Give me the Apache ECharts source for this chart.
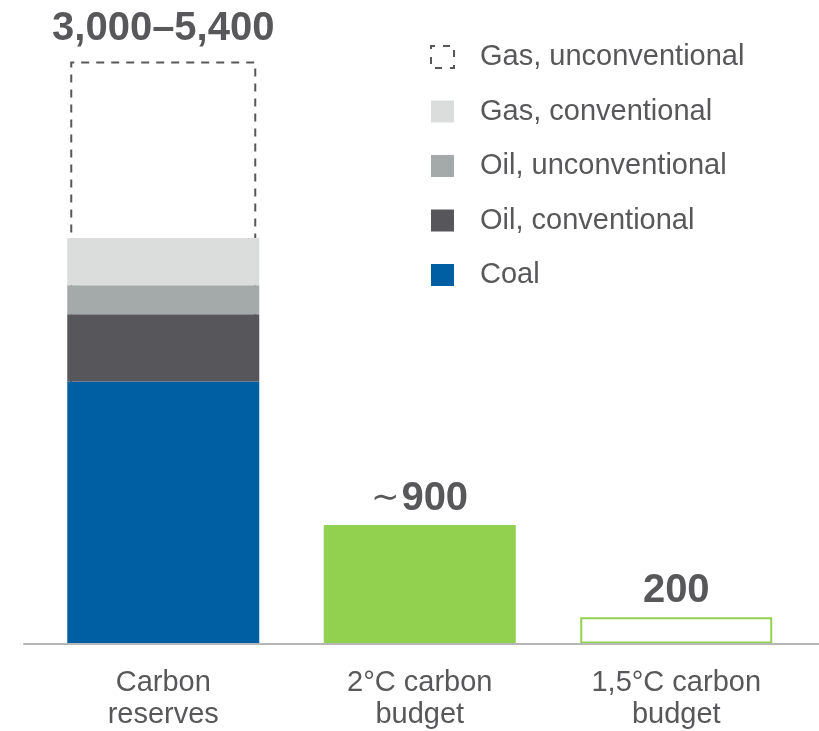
<!DOCTYPE html>
<html>
<head>
<meta charset="utf-8">
<style>
  html, body { margin: 0; padding: 0; background: #ffffff; }
  #chart { width: 819px; height: 731px; }
</style>
<script src="https://cdn.jsdelivr.net/npm/echarts@6/dist/echarts.min.js"></script>
</head>
<body>
<div id="chart"></div>
<script>
// Categories along the x axis
const categories = ['Carbon\nreserves', '2°C carbon\nbudget', '1,5°C carbon\nbudget'];

// Fossil carbon reserves by type (Gt CO2), first column only
const coal = [1990, '-', '-'];
const oilConventional = [510, '-', '-'];
const oilUnconventional = [220, '-', '-'];
const gasConventional = [360, '-', '-'];
const gasUnconventional = [1340, '-', '-'];

// Remaining carbon budgets (Gt CO2)
const budget = ['-', 900, 200];

// Range stated above the reserves column
const reserveRange = [3000, 5400];

const TEXT = '#58585a';
const FONT = '"Liberation Sans", Arial, Helvetica, sans-serif';

// Upper outline = conventional reserves plus unconventional gas
const reservesUpper = coal.map((v, i) => {
  if (v === '-') return '-';
  return coal[i] + oilConventional[i] + oilUnconventional[i] + gasConventional[i] + gasUnconventional[i];
});

const budgetData = budget.map((v, i) => {
  if (i === 2) {
    return { value: v, itemStyle: { color: '#ffffff', borderColor: '#92d050', borderWidth: 2 } };
  }
  return v;
});

const valueLabel = {
  show: true,
  position: 'top',
  distance: 6,
  fontFamily: FONT,
  fontSize: 40,
  fontWeight: 'bold',
  color: TEXT
};

const chart = echarts.init(document.getElementById('chart'), null, { renderer: 'canvas' });

chart.setOption({
  animation: false,
  backgroundColor: '#ffffff',
  grid: [
    { left: 35, right: 14.5, top: 11.5, bottom: 87.5 },
    { left: 24, right: 0, top: 11.5, bottom: 87.2 }
  ],
  legend: {
    orient: 'vertical',
    left: 425,
    top: 37.5,
    itemWidth: 23,
    itemHeight: 22,
    itemGap: 25.5,
    icon: 'rect',
    selectedMode: false,
    textStyle: {
      fontFamily: FONT,
      fontSize: 29,
      color: TEXT,
      lineHeight: 22,
      padding: [0, 0, 0, 21]
    },
    data: [
      { name: 'Gas, unconventional', itemStyle: { color: 'rgba(0,0,0,0)', borderColor: TEXT, borderWidth: 2, borderType: [7, 8], borderDashOffset: 3 } },
      'Gas, conventional',
      'Oil, unconventional',
      'Oil, conventional',
      'Coal'
    ]
  },
  xAxis: [
    {
      type: 'category',
      gridIndex: 0,
      data: categories,
      axisLine: { show: false },
      axisTick: { show: false },
      axisLabel: {
        margin: 23,
        fontFamily: FONT,
        fontSize: 29,
        lineHeight: 32,
        color: TEXT,
        interval: 0
      }
    },
    {
      type: 'category',
      gridIndex: 0,
      data: categories,
      show: false
    },
    {
      // baseline running across the full width
      type: 'value',
      gridIndex: 1,
      min: 0,
      max: 1,
      z: 5,
      axisLine: { show: true, lineStyle: { color: '#b5b6b6', width: 2 } },
      axisTick: { show: false },
      axisLabel: { show: false },
      splitLine: { show: false }
    }
  ],
  yAxis: [
    { type: 'value', gridIndex: 0, min: 0, max: 4800, show: false, splitLine: { show: false } },
    { type: 'value', gridIndex: 1, min: 0, max: 1, show: false, splitLine: { show: false } }
  ],
  series: [
    {
      name: 'Gas, unconventional',
      type: 'bar',
      xAxisIndex: 1,
      yAxisIndex: 0,
      barWidth: 186,
      z: 1,
      data: reservesUpper,
      itemStyle: {
        color: 'rgba(0,0,0,0)',
        borderColor: TEXT,
        borderWidth: 2,
        borderType: [8, 7]
      },
      label: Object.assign({}, valueLabel, {
        distance: 13,
        formatter: () => reserveRange.map(v => v.toLocaleString('en-US')).join('–')
      })
    },
    {
      name: 'Coal',
      type: 'bar',
      stack: 'total',
      barWidth: 192,
      data: coal,
      itemStyle: { color: '#005fa3' }
    },
    {
      name: 'Oil, conventional',
      type: 'bar',
      stack: 'total',
      barWidth: 192,
      data: oilConventional,
      itemStyle: { color: '#57565b' }
    },
    {
      name: 'Oil, unconventional',
      type: 'bar',
      stack: 'total',
      barWidth: 192,
      data: oilUnconventional,
      itemStyle: { color: '#a4a9a9' }
    },
    {
      name: 'Gas, conventional',
      type: 'bar',
      stack: 'total',
      barWidth: 192,
      data: gasConventional,
      itemStyle: { color: '#dbdcdc' }
    },
    {
      name: 'Carbon budget',
      type: 'bar',
      stack: 'total',
      barWidth: 192,
      data: budgetData,
      itemStyle: { color: '#92d050' },
      label: Object.assign({}, valueLabel, {
        formatter: p => (p.dataIndex === 1 ? '{t|∼}' : '') + p.value,
        rich: {
          t: { fontFamily: FONT, fontSize: 34, fontWeight: 'normal', color: TEXT, padding: [0, 2, 0, 0] }
        }
      })
    }
  ]
});
</script>
</body>
</html>
